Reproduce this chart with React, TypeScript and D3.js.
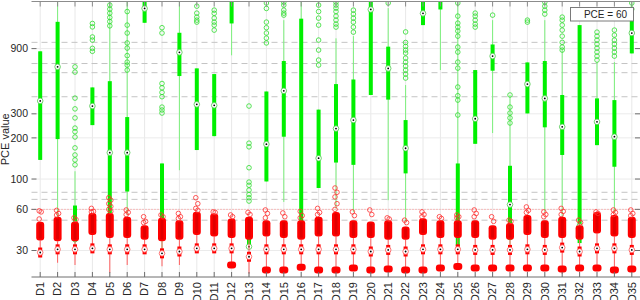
import React from 'react';
import * as d3 from 'd3';

const categories = ['D1','D2','D3','D4','D5','D6','D7','D8','D9','D10','D11','D12','D13','D14','D15','D16','D17','D18','D19','D20','D21','D22','D23','D24','D25','D26','D27','D28','D29','D30','D31','D32','D33','D34','D35'];
const yTicks = [30, 60, 100, 200, 300, 900];
const thresholds = [1000, 700, 600, 400, 80, 71, 50];
const pceValue = 60;

// green (upper) distributions
const gQ3 = [860, 1413, 64, 468, 520, 284, 2500, 130, 1175, 645, 586, 2600, 44, 437, 730, 1490, 322, 495, 535, 2600, 930, 270, 2600, 2600, 130, 627, 965, 125, 713, 730, 412, 1337, 389, 378, 1454];
const gMed = [373, 662, 47, 342, 156, 156, 1770, 47, 845, 352, 346, 2300, 32, 180, 442, 45, 142, 234, 270, 1740, 645, 168, 1630, 2300, 45, 276, 793, 65, 495, 389, 241, 45, 262, 204, 1170];
const gQ1 = [138, 196, 40, 248, 53, 81, 1390, 36, 567, 163, 206, 1375, 31, 96, 204, 37, 86, 132, 127, 412, 381, 110, 1337, 1740, 32.4, 181, 620, 36, 302, 239, 150, 34, 177, 123, 830];
const gWHi = [860, 2500, 114, 468, 2500, 2500, 2500, 130, 2500, 645, 586, 2600, 44, 437, 1454, 2500, 322, 1070, 1110, 2600, 1780, 487, 2600, 2600, 2500, 627, 1454, 412, 713, 1454, 900, 1337, 717, 717, 2500];
const gWLo = [138, 39, 33, 248, 45, 55, 1390, 30, 116, 163, 206, 804, 31, 96, 68, 37, 86, 61, 57.5, 412, 70, 49, 1337, 627, 32.4, 181, 217, 33, 302, 57.5, 53, 34, 177, 57.5, 830];
const gOut: number[][] = [
  [],
  [],
  [662, 606, 391, 326, 280, 236, 222, 203, 169, 150, 138, 127, 36],
  [1375, 1297, 1095, 1039, 904, 860],
  [1873, 1750, 1636, 1520, 1420, 1320],
  [1680, 1337, 1170, 990, 908, 800, 717, 682, 627],
  [],
  [1280, 1170, 500, 465, 430, 400, 336, 320, 304],
  [],
  [1840, 1636, 1530, 1454, 1406],
  [1721, 1630, 1504, 1406, 1337, 1229],
  [],
  [342, 183, 172, 121, 95, 90, 83, 77, 73, 69],
  [1940, 1770, 1406, 1280, 1170, 1074, 990],
  [1969, 1873, 1721, 1636, 1582],
  [],
  [1873, 1680, 1504, 1337, 1039, 878, 742, 682],
  [1969, 1873, 1780, 1680, 1556, 1454, 1360, 1293],
  [1721, 1610, 1504, 1406, 1293, 1188],
  [],
  [1940],
  [1192, 998, 934, 878, 835, 767, 717, 670, 627, 586, 548],
  [],
  [],
  [1940, 1556, 1382, 1293, 1210, 1110, 923, 849, 717, 648, 471, 407, 378, 294],
  [1636, 1556, 1454, 1360, 1293],
  [1582],
  [412, 336, 304, 280, 257],
  [1454, 1406],
  [1969, 1840, 1721, 1610],
  [1530, 1454, 1337, 1229, 1110, 1000, 923, 878],
  [],
  [1188, 1110, 1039, 971, 908, 849, 793, 742],
  [1229, 1130, 1039, 971, 908, 849, 793],
  [1940, 1750],
];

// red (lower) distributions
const rBlobHi = [48.8, 53, 48.8, 56.5, 56.5, 53, 46, 52, 50, 57.7, 56, 51.5, 53, 50, 50, 50, 53, 57.5, 50, 49, 50, 45, 51.7, 50, 50, 50, 46, 47.7, 54.6, 50, 53, 46, 57.5, 54.6, 53];
const rBlobLo = [35.5, 35, 35, 39, 37, 37, 36, 35, 36, 39, 38, 37, 36, 38, 37, 36, 38, 38, 37, 37, 36, 36, 39, 37, 37, 37, 36, 36, 39, 37, 37, 36, 40, 38, 37];
const rMed = [29, 30.6, 30.6, 31.1, 30.6, 30.6, 30.6, 28.6, 29.5, 31.1, 31.1, 31.1, 27, 30.6, 30.6, 30.6, 30.6, 30.6, 30.6, 29.5, 30.3, 29.5, 30.6, 30.6, 30.6, 30.3, 30.3, 30.3, 30.6, 30.3, 31.5, 29.5, 31.1, 31.1, 30.3];
const rWLo = [29, 24.4, 23.5, 31, 20.6, 23.5, 30.6, 23, 23.5, 31, 31, 23.5, 20.3, 21.6, 21.6, 22.6, 21.6, 21.6, 22.3, 21.6, 22, 21.6, 21.6, 22.3, 22.9, 22.3, 22.3, 22.3, 22.3, 22.3, 20.2, 22.3, 22.3, 21.6, 22];
const rLow: (number | null)[] = [null, null, null, null, null, null, null, null, null, null, null, 23.5, null, 21.6, 21.6, 22.6, 21.6, 21.6, 22.3, 21.6, 22, 21.6, 21.6, 22.3, 22.9, 22.3, 22.3, 22.3, 22.3, 22.3, 22, 22.3, 22.3, 21.6, 22];
const rOut: number[][] = [
  [58.5, 57.5, 51], [59, 56, 54.5], [52, 50.5], [61, 58, 57.5], [73, 70, 66, 63, 60, 58],
  [59.4, 57, 55], [53, 49, 48], [54.6, 53], [56, 53, 51.5], [73, 66, 61, 59],
  [57.5, 57], [54.6, 53], [57, 55], [59.4, 56, 52], [56.5, 53],
  [58, 54, 52], [61, 57, 55], [86, 80, 74, 66, 60], [57.5, 54], [59.4, 55],
  [52, 51], [50, 48], [57.5, 55, 53], [53, 51.5], [54.6, 53, 52],
  [59.4, 56, 53], [53, 49], [50, 49], [62.5, 59, 57], [57.5, 55, 53],
  [61, 58, 55], [50, 48], [57.5, 56], [59.4, 57, 55], [59.4, 56, 54],
];

const GREEN = '#00f000';
const GREEN_THIN = '#7cf07c';
const RED = '#ff0000';
const RED_THIN = '#ff6060';

export default function App() {
  const left = 31.5, right = 640, top = 1.5, bottom = 277;
  const x = d3.scaleLinear().domain([0.5, 35.5]).range([31.5, 640.5]);
  const y = d3.scaleLog().domain([19.2, 1990]).range([bottom, top]);
  const font = 'Liberation Sans, Arial, sans-serif';
  const clamp = (v: number) => Math.max(top - 5, Math.min(bottom + 5, y(v)));

  return (
    <svg width={640} height={300} style={{ position: 'absolute', left: 0, top: 0 }} fontFamily={font}>
      <defs>
        <clipPath id="plotclip">
          <rect x={left} y={top} width={right - left} height={bottom - top} />
        </clipPath>
      </defs>
      <rect x={0} y={0} width={640} height={300} fill="#fff" />
      {/* grid */}
      {categories.map((c, i) => (
        <line key={'vg' + c} x1={x(i + 1)} x2={x(i + 1)} y1={top} y2={bottom} stroke="#e8e8e8" strokeWidth={1} />
      ))}
      {yTicks.map(t => (
        <line key={'hg' + t} x1={left} x2={right} y1={y(t)} y2={y(t)} stroke="#ebebeb" strokeWidth={1} />
      ))}
      {thresholds.map(t => (
        <line key={'th' + t} x1={left} x2={right} y1={y(t)} y2={y(t)} stroke="#c4c4c4" strokeWidth={1} strokeDasharray="6,4" />
      ))}
      <line x1={left} x2={right} y1={y(pceValue)} y2={y(pceValue)} stroke="#ff8c8c" strokeWidth={1} strokeDasharray="1,2" />

      <g clipPath="url(#plotclip)">
        {/* green */}
        {categories.map((c, i) => {
          const cx = x(i + 1);
          return (
            <g key={'g' + c}>
              <line x1={cx} x2={cx} y1={clamp(gWHi[i])} y2={clamp(gWLo[i])} stroke={GREEN_THIN} strokeWidth={1} />
              <rect x={cx - 2} width={4} y={clamp(gQ3[i])} height={clamp(gQ1[i]) - clamp(gQ3[i])} fill={GREEN} />
              {gOut[i].map((v, k) => (
                <circle key={k} cx={cx} cy={y(v)} r={2.3} fill="none" stroke="#2fdc2f" strokeWidth={0.8} />
              ))}
              <circle cx={cx} cy={y(gMed[i])} r={2.8} fill="#fff" stroke="#4fc94f" strokeWidth={0.8} />
              <circle cx={cx} cy={y(gMed[i])} r={0.9} fill="#000" />
            </g>
          );
        })}
        {/* red */}
        {categories.map((c, i) => {
          const cx = x(i + 1);
          const low = rLow[i];
          return (
            <g key={'r' + c}>
              <line x1={cx} x2={cx} y1={y(rBlobLo[i])} y2={y(rWLo[i])} stroke={RED_THIN} strokeWidth={1} />
              <rect x={cx - 4} width={8} y={y(rBlobHi[i])} height={y(rBlobLo[i]) - y(rBlobHi[i])} rx={3} fill={RED} />
              <rect x={cx - 1.5} width={3} y={y(rBlobHi[i]) + 2} height={Math.max(0, y(rBlobLo[i]) - y(rBlobHi[i]) - 4)} fill="#e00000" />
              {rOut[i].map((v, k) => (
                <circle key={k} cx={cx + (k % 2 === 0 ? -1 : 1)} cy={y(v)} r={2.3} fill="none" stroke="#ff3030" strokeWidth={0.8} />
              ))}
              {low !== null && (
                <rect x={cx - 4.5} width={9} y={y(low) - 3.5} height={7} rx={3} fill={RED} />
              )}
              <rect x={cx - 2} width={4} y={y(rMed[i]) - 5} height={10} fill={RED} />
              <circle cx={cx} cy={y(rMed[i])} r={2.8} fill="#fff" stroke="#ff5050" strokeWidth={0.8} />
              <circle cx={cx} cy={y(rMed[i])} r={0.9} fill="#000" />
            </g>
          );
        })}
      </g>

      {/* axes */}
      <line x1={left} x2={right} y1={top} y2={top} stroke="#8c8c8c" strokeWidth={1} />
      <line x1={left} x2={right} y1={bottom} y2={bottom} stroke="#6e6e6e" strokeWidth={1} />
      {categories.map((c, i) => (
        <g key={'t' + c}>
          <line x1={x(i + 1)} x2={x(i + 1)} y1={top} y2={top + 5} stroke="#8c8c8c" />
          <line x1={x(i + 1)} x2={x(i + 1)} y1={bottom} y2={bottom - 5} stroke="#6e6e6e" />
          <text
            transform={`translate(${x(i + 1)},282) rotate(-90)`}
            textAnchor="end"
            dy="0.35em"
            fontSize={11}
            fill="#262626"
          >{c}</text>
        </g>
      ))}
      {yTicks.map(t => (
        <g key={'yt' + t}>
          <line x1={left} x2={left + 5} y1={y(t)} y2={y(t)} stroke="#6e6e6e" />
          <line x1={right} x2={right - 5} y1={y(t)} y2={y(t)} stroke="#6e6e6e" />
          <text x={28} y={y(t)} dy="0.35em" textAnchor="end" fontSize={10.5} fill="#262626">{t}</text>
        </g>
      ))}
      <text transform={`translate(9,${(top + bottom) / 2}) rotate(-90)`} textAnchor="middle" fontSize={11} fill="#262626">PCE value</text>

      {/* legend */}
      <rect x={570.5} y={7.5} width={63} height={13.5} fill="#fff" stroke="#7a7a7a" strokeWidth={1} />
      <text x={627} y={17.8} textAnchor="end" fontSize={10} fill="#262626">PCE = {pceValue}</text>
    </svg>
  );
}
